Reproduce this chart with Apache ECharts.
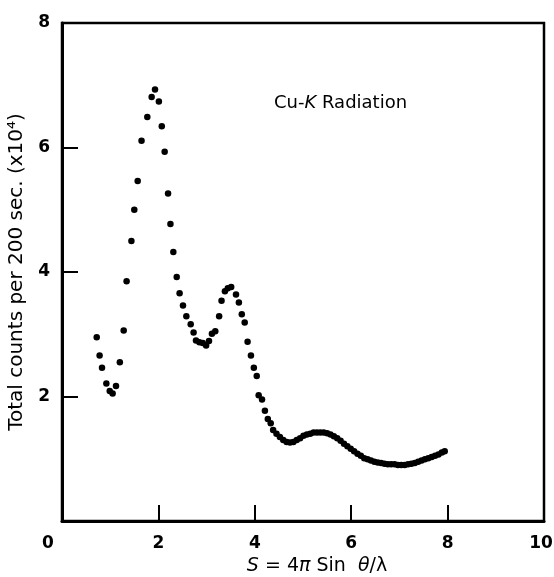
<!DOCTYPE html>
<html lang="en">
<head>
    <meta charset="UTF-8">
    <title>Cu-K Radiation scattering</title>
    <script src="https://cdn.jsdelivr.net/npm/echarts@6/dist/echarts.min.js"></script>
    <style>
        body, html {
            margin: 0;
            padding: 0;
            width: 100%;
            height: 100%;
            overflow: hidden;
            background-color: #fff;
        }
        #chart {
            width: 554px;
            height: 577px;
        }
    </style>
</head>
<body>
    <div id="chart"></div>
    <script>
        // S values (x) and total counts (x10^4)
        var sValues = [
            0.72, 0.78, 0.83, 0.92, 0.99, 1.05, 1.12, 1.20, 1.28, 1.34,
            1.44, 1.50, 1.57, 1.65, 1.77, 1.86, 1.93, 2.01, 2.07, 2.13,
            2.20, 2.25, 2.31, 2.38, 2.44, 2.51, 2.58, 2.67, 2.73, 2.78,
            2.85, 2.92, 2.99, 3.05, 3.11, 3.18, 3.26, 3.31, 3.38, 3.44,
            3.51, 3.61, 3.67, 3.73, 3.79, 3.85, 3.92, 3.98, 4.04, 4.08,
            4.15, 4.21, 4.27, 4.33, 4.38, 4.45, 4.52, 4.59, 4.66, 4.73,
            4.80, 4.87, 4.94, 5.01, 5.08, 5.15, 5.22, 5.29, 5.36, 5.43,
            5.50, 5.57, 5.64, 5.71, 5.78, 5.85, 5.92, 5.99, 6.06, 6.13,
            6.20, 6.27, 6.34, 6.41, 6.48, 6.55, 6.62, 6.69, 6.76, 6.83,
            6.90, 6.97, 7.04, 7.11, 7.18, 7.25, 7.32, 7.39, 7.46, 7.53,
            7.60, 7.67, 7.74, 7.81, 7.88, 7.94
        ];
        var counts = [
            2.95, 2.66, 2.46, 2.21, 2.09, 2.05, 2.17, 2.55, 3.06, 3.85,
            4.50, 5.00, 5.46, 6.11, 6.49, 6.81, 6.93, 6.74, 6.34, 5.93,
            5.26, 4.77, 4.32, 3.92, 3.66, 3.46, 3.29, 3.16, 3.03, 2.90,
            2.87, 2.86, 2.82, 2.89, 3.01, 3.05, 3.29, 3.54, 3.69, 3.74,
            3.76, 3.64, 3.51, 3.32, 3.19, 2.88, 2.66, 2.46, 2.33, 2.02,
            1.95, 1.77, 1.64, 1.57, 1.46, 1.40, 1.35, 1.30, 1.27, 1.26,
            1.27, 1.30, 1.33, 1.37, 1.39, 1.40, 1.42, 1.42, 1.42, 1.42,
            1.41, 1.39, 1.36, 1.33, 1.29, 1.24, 1.20, 1.16, 1.12, 1.08,
            1.05, 1.01, 0.99, 0.97, 0.95, 0.94, 0.93, 0.92, 0.91, 0.91,
            0.91, 0.90, 0.90, 0.90, 0.91, 0.92, 0.93, 0.95, 0.97, 0.99,
            1.01, 1.03, 1.05, 1.07, 1.10, 1.12
        ];

        var points = sValues.map(function (s, i) { return [s, counts[i]]; });

        // wide sans to get close to the old typeset lettering
        var font = '"DejaVu Sans", sans-serif';
        var tickRich = {
            o: { fontFamily: font, fontSize: 17, fontWeight: 'bold', color: '#000', padding: [0, 28, 0, 0] },
            t: { fontFamily: font, fontSize: 17, fontWeight: 'bold', color: '#000', padding: [0, 6, 0, 0] }
        };

        var option = {
            backgroundColor: '#fff',
            animation: false,
            title: {
                text: '{n|Cu-}{i|K}{n| Radiation}',
                left: 269,
                top: 89,
                textStyle: {
                    rich: {
                        n: { fontFamily: font, fontSize: 18, fontWeight: 'normal', color: '#000' },
                        i: { fontFamily: font, fontSize: 18, fontWeight: 'normal', fontStyle: 'italic', color: '#000' }
                    }
                }
            },
            grid: {
                left: 62,
                right: 10,
                top: 23,
                bottom: 56,
                outerBoundsMode: 'none',
                show: true,
                borderColor: '#000',
                borderWidth: 2.5
            },
            xAxis: {
                type: 'value',
                min: 0,
                max: 10,
                interval: 2,
                name: '{i|S} = 4{i|π} Sin  {i|θ}/λ',
                nameLocation: 'middle',
                nameGap: 34,
                nameTextStyle: {
                    fontFamily: font,
                    fontSize: 19,
                    color: '#000',
                    padding: [0, 0, 0, 28],
                    rich: {
                        i: { fontFamily: font, fontSize: 19, fontStyle: 'italic', color: '#000' }
                    }
                },
                axisLine: { lineStyle: { color: '#000', width: 3 } },
                axisTick: { inside: true, length: 16, lineStyle: { color: '#000', width: 2 } },
                splitLine: { show: false },
                axisLabel: {
                    margin: 14,
                    color: '#000',
                    fontFamily: font,
                    fontSize: 17,
                    fontWeight: 'bold',
                    formatter: function (v) {
                        if (v === 0) return '{o|0}';
                        if (v === 10) return '{t|10}';
                        return String(v);
                    },
                    rich: tickRich
                }
            },
            yAxis: {
                type: 'value',
                min: 0,
                max: 8,
                interval: 2,
                name: 'Total counts per 200 sec. (x10⁴)',
                nameLocation: 'middle',
                nameGap: 31,
                nameTextStyle: { fontFamily: font, fontSize: 20, color: '#000' },
                axisLine: { lineStyle: { color: '#000', width: 3 } },
                axisTick: { inside: true, length: 16, lineStyle: { color: '#000', width: 2 } },
                splitLine: { show: false },
                axisLabel: {
                    margin: 12,
                    color: '#000',
                    fontFamily: font,
                    fontSize: 17,
                    fontWeight: 'bold',
                    formatter: function (v) { return v === 0 ? '' : String(v); }
                }
            },
            series: [{
                type: 'scatter',
                data: points,
                symbol: 'circle',
                symbolSize: 6.5,
                itemStyle: { color: '#000', opacity: 1 }
            }]
        };

        var chart = echarts.init(document.getElementById('chart'));
        chart.setOption(option);
    </script>
</body>
</html>
